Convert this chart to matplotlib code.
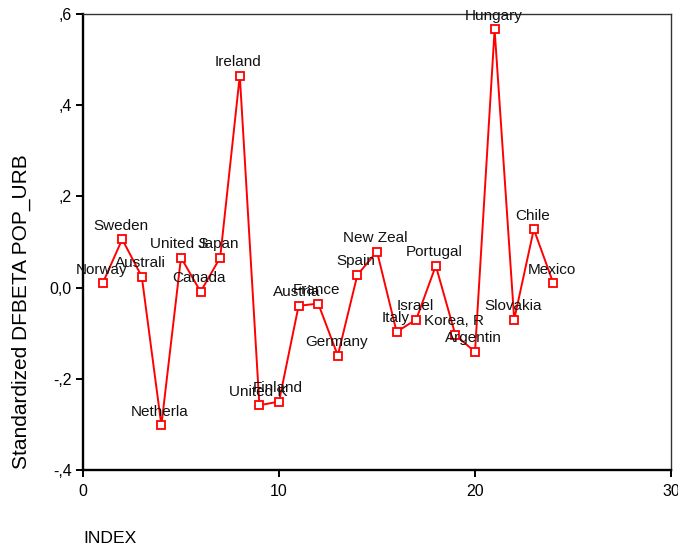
import matplotlib
matplotlib.use("Agg")
import matplotlib.pyplot as plt

plt.rcParams["font.family"] = ["Liberation Sans", "DejaVu Sans"]

# case index, standardized DFBETA for POP_URB and the truncated case labels
index = list(range(1, 25))
dfbeta = [0.009, 0.106, 0.024, -0.302, 0.066, -0.009, 0.066, 0.465,
          -0.258, -0.250, -0.040, -0.035, -0.149, 0.028, 0.079, -0.097,
          -0.070, 0.048, -0.104, -0.141, 0.566, -0.070, 0.128, 0.009]
countries = ["Norway", "Sweden", "Australi", "Netherla", "United S", "Canada",
             "Japan", "Ireland", "United K", "Finland", "Austria", "France",
             "Germany", "Spain", "New Zeal", "Italy", "Israel", "Portugal",
             "Korea, R", "Argentin", "Hungary", "Slovakia", "Chile", "Mexico"]

x_ticks = [0, 10, 20, 30]
y_ticks = [-0.4, -0.2, 0.0, 0.2, 0.4, 0.6]
y_tick_labels = ["-,4", "-,2", "0,0", ",2", ",4", ",6"]


def main():
    fig = plt.figure(figsize=(6.78, 5.51), dpi=100)
    ax = fig.add_axes([0.1224, 0.147, 0.8673, 0.8276])

    ax.plot(index, dfbeta, color="red", linewidth=1.4, marker="s",
            markersize=5.5, markerfacecolor="white", markeredgecolor="red",
            markeredgewidth=1.3, zorder=3)

    for xi, yi, name in zip(index, dfbeta, countries):
        ax.annotate(name, (xi, yi), xytext=(-1, 7), textcoords="offset points",
                    ha="center", va="baseline", fontsize=11, color="#111111",
                    annotation_clip=False, zorder=4)

    ax.set_xlim(0, 30)
    ax.set_ylim(-0.4, 0.6)
    ax.set_xticks(x_ticks)
    ax.set_yticks(y_ticks)
    ax.set_yticklabels(y_tick_labels)
    ax.tick_params(axis="both", direction="out", length=5, width=1.4,
                   labelsize=11.5, colors="black")
    ax.tick_params(axis="y", pad=3)
    ax.tick_params(axis="x", pad=5)

    for side in ["left", "bottom"]:
        ax.spines[side].set_linewidth(1.7)
    for side in ["top", "right"]:
        ax.spines[side].set_linewidth(1.0)
        ax.spines[side].set_color("#333333")

    fig.text(0.031, 0.434, "Standardized DFBETA POP_URB", rotation=90,
             ha="center", va="center", fontsize=15)
    fig.text(0.1224, 0.0145, "INDEX", ha="left", va="baseline", fontsize=12.6)

    fig.savefig("out.png", dpi=100)


if __name__ == "__main__":
    main()
